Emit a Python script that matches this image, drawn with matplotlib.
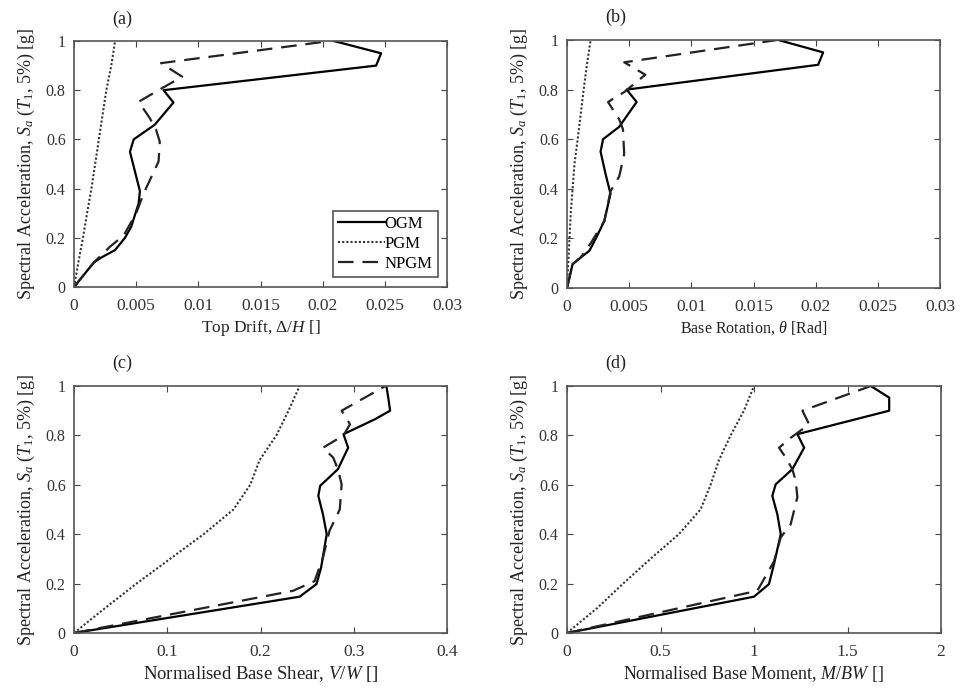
import matplotlib
matplotlib.use("Agg")
import matplotlib.pyplot as plt

plt.rcParams['font.family'] = ['Liberation Serif', 'DejaVu Serif']
plt.rcParams['mathtext.fontset'] = 'custom'
plt.rcParams['mathtext.rm'] = 'Liberation Serif'
plt.rcParams['mathtext.it'] = 'Liberation Serif:italic'
plt.rcParams['font.size'] = 11

# ---- Panel (a): Top drift ----
a_ogm_y = [0, 0.05, 0.10, 0.12, 0.15, 0.20, 0.245, 0.34, 0.39, 0.47, 0.55, 0.60, 0.66, 0.75, 0.80, 0.90, 0.95, 1.00]
a_ogm_x = [0, 0.0008, 0.0016, 0.0022, 0.0033, 0.0041, 0.0046, 0.0052, 0.0053, 0.0049, 0.0045, 0.0048, 0.0065, 0.0080, 0.0072, 0.0243, 0.0247, 0.0209]
a_pgm_y = [0, 0.1, 0.2, 0.3, 0.4, 0.5, 0.6, 0.7, 0.8, 0.9, 1.0]
a_pgm_x = [0, 0.00035, 0.00072, 0.00105, 0.0014, 0.0017, 0.0020, 0.0023, 0.0026, 0.0030, 0.0033]
a_npgm_y = [0, 0.05, 0.10, 0.164, 0.21, 0.30, 0.38, 0.51, 0.59, 0.64, 0.686, 0.753, 0.80, 0.855, 0.91, 1.00]
a_npgm_x = [0, 0.0008, 0.0016, 0.0029, 0.0040, 0.0050, 0.0056, 0.0068, 0.0069, 0.0066, 0.0061, 0.0052, 0.0068, 0.0087, 0.0070, 0.0206]

# ---- Panel (b): Base rotation ----
b_ogm_y = [0, 0.096, 0.123, 0.15, 0.198, 0.27, 0.38, 0.46, 0.55, 0.60, 0.65, 0.75, 0.80, 0.90, 0.95, 1.00]
b_ogm_x = [0, 0.00045, 0.0011, 0.0018, 0.0023, 0.0030, 0.0035, 0.0031, 0.0027, 0.0029, 0.0042, 0.0056, 0.0048, 0.0202, 0.0206, 0.0170]
b_pgm_y = [0, 0.1, 0.2, 0.3, 0.4, 0.5, 0.6, 0.7, 0.8, 0.9, 1.0]
b_pgm_x = [0, 0.0001, 0.0002, 0.0003, 0.00045, 0.0006, 0.00086, 0.0011, 0.00134, 0.0016, 0.0019]
b_npgm_y = [0, 0.096, 0.123, 0.18, 0.27, 0.39, 0.45, 0.54, 0.64, 0.68, 0.75, 0.79, 0.86, 0.91, 1.00]
b_npgm_x = [0, 0.00045, 0.0011, 0.0019, 0.0030, 0.0035, 0.0042, 0.0046, 0.0045, 0.0042, 0.0033, 0.0046, 0.0063, 0.0046, 0.0169]

# ---- Panel (c): Normalised base shear ----
c_ogm_y = [0, 0.147, 0.198, 0.265, 0.40, 0.48, 0.555, 0.596, 0.663, 0.75, 0.805, 0.865, 0.90, 0.953, 1.00]
c_ogm_x = [0, 0.242, 0.260, 0.265, 0.271, 0.267, 0.262, 0.264, 0.283, 0.294, 0.289, 0.3225, 0.339, 0.337, 0.335]
c_pgm_y = [0, 0.1, 0.2, 0.3, 0.4, 0.5, 0.6, 0.7, 0.8, 0.9, 1.0]
c_pgm_x = [0, 0.033, 0.067, 0.103, 0.139, 0.171, 0.189, 0.199, 0.217, 0.230, 0.242]
c_npgm_y = [0, 0.171, 0.21, 0.306, 0.414, 0.50, 0.602, 0.663, 0.71, 0.75, 0.80, 0.845, 0.90, 1.00]
c_npgm_x = [0, 0.235, 0.258, 0.267, 0.274, 0.285, 0.287, 0.283, 0.278, 0.267, 0.289, 0.296, 0.287, 0.334]

# ---- Panel (d): Normalised base moment ----
d_ogm_y = [0, 0.147, 0.198, 0.279, 0.40, 0.48, 0.555, 0.602, 0.663, 0.75, 0.805, 0.90, 0.953, 1.00]
d_ogm_x = [0, 1.00, 1.08, 1.107, 1.143, 1.125, 1.098, 1.116, 1.205, 1.268, 1.232, 1.723, 1.723, 1.625]
d_pgm_y = [0, 0.1, 0.2, 0.3, 0.4, 0.5, 0.6, 0.7, 0.8, 0.9, 1.0]
d_pgm_x = [0, 0.16, 0.30, 0.446, 0.598, 0.714, 0.768, 0.8125, 0.875, 0.946, 1.0]
d_npgm_y = [0, 0.171, 0.29, 0.387, 0.44, 0.55, 0.616, 0.663, 0.71, 0.75, 0.79, 0.845, 0.90, 1.00]
d_npgm_x = [0, 1.018, 1.107, 1.143, 1.196, 1.232, 1.223, 1.205, 1.17, 1.134, 1.196, 1.295, 1.259, 1.625]

series_labels = ['OGM', 'PGM', 'NPGM']
panel_titles = ['(a)', '(b)', '(c)', '(d)']
x_labels = [r'Top Drift, $\mathit{\Delta}/H$ []',
            r'Base Rotation, $\theta$ [Rad]',
            r'Normalised Base Shear, $V/W$ []',
            r'Normalised Base Moment, $M/BW$ []']
y_label = r'Spectral Acceleration, $S_a$ ($T_1$, 5%) [g]'
x_ticks = [[0, 0.005, 0.01, 0.015, 0.02, 0.025, 0.03],
           [0, 0.005, 0.01, 0.015, 0.02, 0.025, 0.03],
           [0, 0.1, 0.2, 0.3, 0.4],
           [0, 0.5, 1, 1.5, 2]]
x_tick_labels = [['0', '0.005', '0.01', '0.015', '0.02', '0.025', '0.03'],
                 ['0', '0.005', '0.01', '0.015', '0.02', '0.025', '0.03'],
                 ['0', '0.1', '0.2', '0.3', '0.4'],
                 ['0', '0.5', '1', '1.5', '2']]
y_ticks = [0, 0.2, 0.4, 0.6, 0.8, 1.0]
y_tick_labels = ['0', '0.2', '0.4', '0.6', '0.8', '1']

panels = [
    (a_ogm_x, a_ogm_y, a_pgm_x, a_pgm_y, a_npgm_x, a_npgm_y),
    (b_ogm_x, b_ogm_y, b_pgm_x, b_pgm_y, b_npgm_x, b_npgm_y),
    (c_ogm_x, c_ogm_y, c_pgm_x, c_pgm_y, c_npgm_x, c_npgm_y),
    (d_ogm_x, d_ogm_y, d_pgm_x, d_pgm_y, d_npgm_x, d_npgm_y),
]

W, H = 961, 690
fig = plt.figure(figsize=(W / 100, H / 100), dpi=100)
boxes = [(74, 41, 447, 287), (567, 40, 940, 288), (74, 386, 447, 633), (567, 386, 941, 633)]
xlabel_sizes = [12.5, 11.5, 13.5, 13]

for i, (box, data) in enumerate(zip(boxes, panels)):
    l, t, r, b = box
    ax = fig.add_axes([l / W, 1 - b / H, (r - l) / W, (b - t) / H])
    ox, oy, px, py, nx, ny = data
    ax.plot(ox, oy, color='black', lw=1.6, ls='-', label=series_labels[0])
    ax.plot(px, py, color='#333333', lw=1.5, ls=(0, (1, 1)), label=series_labels[1])
    ax.plot(nx, ny, color='#222222', lw=1.6, ls=(0, (7, 4)), label=series_labels[2])
    ax.set_xlim(x_ticks[i][0], x_ticks[i][-1])
    ax.set_ylim(0, 1)
    ax.set_xticks(x_ticks[i])
    ax.set_xticklabels(x_tick_labels[i])
    ax.set_yticks(y_ticks)
    ax.set_yticklabels(y_tick_labels)
    ax.tick_params(direction='in', top=True, right=True, length=4, width=0.8,
                   colors='#444444', labelcolor='#333333')
    ax.tick_params(axis='x', labelsize=12.5, pad=8)
    ax.tick_params(axis='y', labelsize=11.5, pad=6)
    for sp in ax.spines.values():
        sp.set_color('#555555')
        sp.set_linewidth(1.2)
    ax.set_xlabel(x_labels[i], fontsize=xlabel_sizes[i], color='#222222', labelpad=3)
    ax.set_ylabel(y_label, fontsize=13, color='#222222', labelpad=6)
    ax.text(0.13, 1.09, panel_titles[i], transform=ax.transAxes, ha='center',
            va='center', fontsize=13, color='#222222')
    if i == 0:
        leg = ax.legend(loc='lower right', bbox_to_anchor=(0.975, 0.04), fontsize=12,
                        handlelength=2.8, handletextpad=0.0, borderpad=0.3,
                        labelspacing=0.25, borderaxespad=0.0, fancybox=False,
                        framealpha=1)
        leg.get_frame().set_edgecolor('#555555')
        leg.get_frame().set_linewidth(1.2)

fig.savefig('out.png', dpi=100)
